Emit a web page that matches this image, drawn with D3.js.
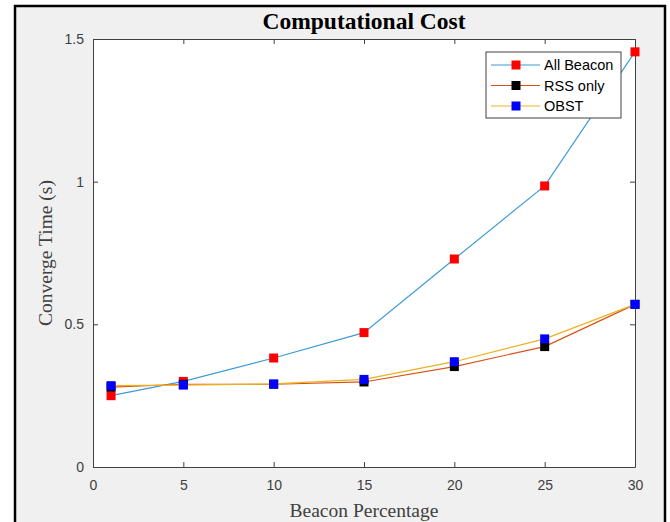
<!DOCTYPE html>
<html>
<head>
<meta charset="utf-8">
<script src="https://cdn.jsdelivr.net/npm/d3@7"></script>
<style>
  html, body { margin: 0; padding: 0; background: #fff; }
  svg { display: block; }
  .axis text { font-family: "Liberation Sans", Arial, sans-serif; font-size: 14px; fill: #404040; }
  .axis line, .axis path { stroke: #404040; }
</style>
</head>
<body>
<div id="chart"></div>
<script>
// data
const beaconPct = [1, 5, 10, 15, 20, 25, 30];
const allBeacon = [0.25, 0.30, 0.382, 0.471, 0.729, 0.985, 1.455];
const rssOnly   = [0.28, 0.29, 0.29, 0.298, 0.352, 0.422, 0.57];
const obst      = [0.285, 0.287, 0.291, 0.307, 0.369, 0.449, 0.57];
const xTicks = [0, 5, 10, 15, 20, 25, 30];
const yTicks = [0, 0.5, 1, 1.5];

const seriesNames = ['All Beacon', 'RSS only', 'OBST'];
const lineColors = ['#3d9bd6', '#d95319', '#edb120'];
const markerColors = ['#ff0000', '#000000', '#0000ff'];

const W = 670, H = 522;
const margin = {top: 39, right: 35, bottom: 55, left: 93};
const plotW = W - margin.left - margin.right;   // 542
const plotH = H - margin.top - margin.bottom;   // 428

const svg = d3.select('#chart').append('svg')
  .attr('width', W)
  .attr('height', H);

// figure frame
svg.append('rect')
  .attr('x', 15).attr('y', 6)
  .attr('width', 650).attr('height', 530)
  .attr('fill', '#f0f0f0')
  .attr('stroke', '#000')
  .attr('stroke-width', 2.5);

const x = d3.scaleLinear().domain([0, 30]).range([0, plotW]);
const y = d3.scaleLinear().domain([0, 1.5]).range([plotH, 0]);

const g = svg.append('g')
  .attr('transform', 'translate(' + margin.left + ',' + margin.top + ')');

g.append('rect')
  .attr('width', plotW).attr('height', plotH)
  .attr('fill', '#fff');

// axes, ticks inward on all four sides
g.append('g').attr('class', 'axis')
  .attr('transform', 'translate(0,' + plotH + ')')
  .call(d3.axisBottom(x).tickValues(xTicks).tickSize(-5).tickSizeOuter(0).tickPadding(13));

g.append('g').attr('class', 'axis')
  .call(d3.axisLeft(y).tickValues(yTicks).tickFormat(d3.format('')).tickSize(-5).tickSizeOuter(0).tickPadding(9));

g.append('g').attr('class', 'axis')
  .call(d3.axisTop(x).tickValues(xTicks).tickSize(-5).tickSizeOuter(0).tickFormat(''));

g.append('g').attr('class', 'axis')
  .attr('transform', 'translate(' + plotW + ',0)')
  .call(d3.axisRight(y).tickValues(yTicks).tickSize(-5).tickSizeOuter(0).tickFormat(''));

g.selectAll('.axis text').attr('fill', '#404040');

// lines + markers, drawn series by series
const allSeries = [allBeacon, rssOnly, obst];
const line = d3.line()
  .x((d, i) => x(beaconPct[i]))
  .y(d => y(d));
const ms = 9;

allSeries.forEach(function (vals, k) {
  g.append('path')
    .datum(vals)
    .attr('fill', 'none')
    .attr('stroke', lineColors[k])
    .attr('stroke-width', 1.2)
    .attr('d', line);

  g.selectAll('.m' + k).data(vals)
    .enter().append('rect')
    .attr('class', 'm' + k)
    .attr('x', (d, i) => x(beaconPct[i]) - ms / 2)
    .attr('y', d => y(d) - ms / 2)
    .attr('width', ms)
    .attr('height', ms)
    .attr('fill', markerColors[k]);
});

// title and axis labels
svg.append('text')
  .attr('x', margin.left + plotW / 2)
  .attr('y', 29)
  .attr('text-anchor', 'middle')
  .style('font-family', '"Liberation Serif", "Times New Roman", serif')
  .style('font-weight', 'bold')
  .style('font-size', '23.5px')
  .attr('fill', '#000')
  .text('Computational Cost');

svg.append('text')
  .attr('x', margin.left + plotW / 2)
  .attr('y', 517)
  .attr('text-anchor', 'middle')
  .style('font-family', '"Liberation Serif", "Times New Roman", serif')
  .style('font-size', '19.5px')
  .attr('fill', '#404040')
  .text('Beacon Percentage');

svg.append('text')
  .attr('transform', 'translate(52,' + (margin.top + plotH / 2) + ') rotate(-90)')
  .attr('text-anchor', 'middle')
  .style('font-family', '"Liberation Serif", "Times New Roman", serif')
  .style('font-size', '19.5px')
  .attr('fill', '#404040')
  .text('Converge Time (s)');

// legend
const lg = svg.append('g').attr('transform', 'translate(486,52)');
lg.append('rect')
  .attr('width', 135).attr('height', 66)
  .attr('fill', '#fff')
  .attr('stroke', '#404040')
  .attr('stroke-width', 1);

seriesNames.forEach(function (name, k) {
  const ly = 13 + k * 20.5;
  lg.append('line')
    .attr('x1', 5).attr('x2', 54)
    .attr('y1', ly).attr('y2', ly)
    .attr('stroke', lineColors[k])
    .attr('stroke-width', 1.2);
  lg.append('rect')
    .attr('x', 30 - ms / 2).attr('y', ly - ms / 2)
    .attr('width', ms).attr('height', ms)
    .attr('fill', markerColors[k]);
  lg.append('text')
    .attr('x', 58).attr('y', ly)
    .attr('dy', '0.35em')
    .style('font-family', '"Liberation Sans", Arial, sans-serif')
    .style('font-size', '14.5px')
    .attr('fill', '#000')
    .text(name);
});
</script>
</body>
</html>
